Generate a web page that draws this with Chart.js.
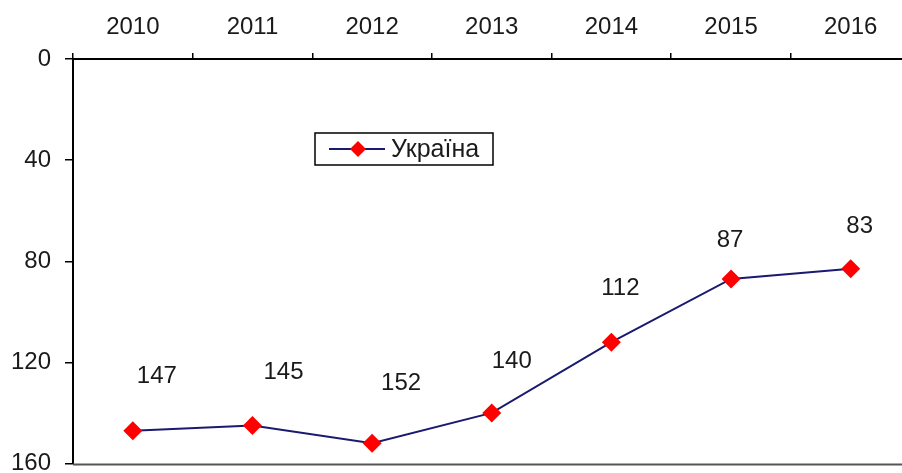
<!DOCTYPE html>
<html>
<head>
<meta charset="utf-8">
<script src="https://cdn.jsdelivr.net/npm/chart.js@4.4.1/dist/chart.umd.min.js"></script>
<style>
  html, body { margin: 0; padding: 0; background: #fff; overflow: hidden; }
  #wrap { width: 920px; height: 473px; }
</style>
</head>
<body>
<div id="wrap"><canvas id="rankChart" width="920" height="473"></canvas></div>
<script>
// Ranking of Ukraine by year (lower number = better place)
const years = ['2010', '2011', '2012', '2013', '2014', '2015', '2016'];
const ukraineRank = [147, 145, 152, 140, 112, 87, 83];
const seriesName = 'Україна';
const rankMin = 0;
const rankMax = 160;
const rankStep = 40;

const FONT = "'Liberation Sans', Arial, sans-serif";
const lineColor = '#1a1a70';
const markerColor = '#ff0000';

// Value labels float above each point, nudged individually so they don't hit the line
const labelShift = [
  [24, -54], [31, -53], [29, -60], [20, -52], [9, -54], [-1, -39], [9, -42]
];

const decorPlugin = {
  id: 'decor',
  afterDatasetsDraw(chart) {
    const { ctx, chartArea } = chart;
    const meta = chart.getDatasetMeta(0);

    // value labels
    ctx.save();
    ctx.font = `24px ${FONT}`;
    ctx.fillStyle = '#1a1a1a';
    ctx.textAlign = 'center';
    ctx.textBaseline = 'middle';
    meta.data.forEach((pt, i) => {
      const [dx, dy] = labelShift[i];
      ctx.fillText(String(chart.data.datasets[0].data[i]), pt.x + dx, pt.y + dy);
    });
    ctx.restore();

    // bottom frame line
    ctx.save();
    ctx.strokeStyle = '#555';
    ctx.lineWidth = 2;
    ctx.beginPath();
    ctx.moveTo(chartArea.left, chartArea.bottom + 1);
    ctx.lineTo(chartArea.right, chartArea.bottom + 1);
    ctx.stroke();
    ctx.restore();

    // legend box inside the plot
    const bx = 315, by = 133, bw = 178, bh = 32;
    ctx.save();
    ctx.fillStyle = '#fff';
    ctx.fillRect(bx, by, bw, bh);
    ctx.strokeStyle = '#000';
    ctx.lineWidth = 1.5;
    ctx.strokeRect(bx, by, bw, bh);
    const ly = by + bh / 2;
    ctx.strokeStyle = lineColor;
    ctx.lineWidth = 2;
    ctx.beginPath();
    ctx.moveTo(bx + 14, ly);
    ctx.lineTo(bx + 70, ly);
    ctx.stroke();
    ctx.fillStyle = markerColor;
    ctx.beginPath();
    const mx = bx + 43, r = 8;
    ctx.moveTo(mx, ly - r);
    ctx.lineTo(mx + r, ly);
    ctx.lineTo(mx, ly + r);
    ctx.lineTo(mx - r, ly);
    ctx.closePath();
    ctx.fill();
    ctx.fillStyle = '#1a1a1a';
    ctx.font = `25px ${FONT}`;
    ctx.textAlign = 'left';
    ctx.textBaseline = 'middle';
    ctx.fillText(chart.data.datasets[0].label, bx + 76, ly + 1);
    ctx.restore();
  }
};

new Chart(document.getElementById('rankChart'), {
  type: 'line',
  data: {
    labels: years,
    datasets: [{
      label: seriesName,
      data: ukraineRank,
      borderColor: lineColor,
      borderWidth: 2,
      backgroundColor: markerColor,
      pointStyle: 'rectRot',
      pointRadius: 9.5,
      pointBorderColor: markerColor,
      pointBorderWidth: 0,
      tension: 0,
      fill: false
    }]
  },
  options: {
    responsive: false,
    animation: false,
    layout: { padding: { left: 0, top: 0, right: 7, bottom: 8 } },
    plugins: {
      legend: { display: false },
      tooltip: { enabled: false }
    },
    scales: {
      x: {
        position: 'top',
        offset: true,
        afterFit: (scale) => {
          scale.height = 59;
          scale.paddingLeft = 0;
          scale.paddingRight = 0;
        },
        grid: {
          offset: true,
          drawOnChartArea: false,
          drawTicks: true,
          tickLength: 6,
          color: '#000',
          lineWidth: 1.5
        },
        border: { display: true, color: '#000', width: 2 },
        ticks: {
          color: '#1a1a1a',
          font: { family: FONT, size: 24 },
          padding: 11,
          maxRotation: 0
        }
      },
      y: {
        reverse: true,
        min: rankMin,
        max: rankMax,
        afterFit: (scale) => {
          scale.width = 73;
          // let the end labels overhang instead of shrinking the plot
          scale.paddingTop = 0;
          scale.paddingBottom = 0;
        },
        grid: {
          drawOnChartArea: false,
          drawTicks: true,
          tickLength: 8,
          color: '#000',
          lineWidth: 1.5
        },
        border: { display: true, color: '#000', width: 2 },
        ticks: {
          stepSize: rankStep,
          color: '#1a1a1a',
          font: { family: FONT, size: 24 },
          padding: 14
        }
      }
    }
  },
  plugins: [decorPlugin]
});
</script>
</body>
</html>
